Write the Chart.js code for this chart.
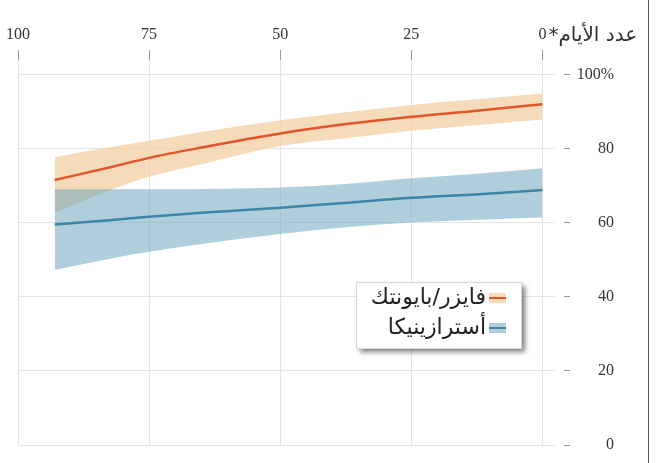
<!DOCTYPE html>
<html>
<head>
<meta charset="utf-8">
<script src="https://cdn.jsdelivr.net/npm/chart.js@4.4.1/dist/chart.umd.min.js"></script>
<style>
  html, body { margin: 0; padding: 0; background: #fff; }
  canvas { display: block; }
</style>
</head>
<body>
<canvas id="chart" width="658" height="463"></canvas>
<script>
// days since second dose
const days = [93, 82, 75, 65, 50, 37, 25, 12, 0];

const pfizerMid   = [71.6, 75.2, 77.6, 80.4, 84.2, 86.8, 88.7, 90.4, 92.1];
const pfizerHigh  = [77.8, 80.6, 82.2, 84.6, 87.8, 90.0, 91.9, 93.5, 95.0];
const pfizerLow   = [62.8, 69.1, 72.5, 75.9, 80.8, 83.0, 84.9, 86.5, 88.0];

const astraMid    = [59.6, 60.8, 61.7, 62.8, 64.1, 65.5, 66.8, 67.8, 68.9];
const astraHigh   = [69.1, 69.1, 69.1, 69.2, 69.6, 70.6, 72.1, 73.4, 74.8];
const astraLow    = [47.3, 50.5, 52.2, 54.3, 57.0, 58.9, 60.1, 60.9, 61.5];

const xTicks = [100, 75, 50, 25, 0];
const yTicks = [0, 20, 40, 60, 80, 100];

const seriesNames = ["فايزر/بايونتك", "أسترازينيكا"];
const xTitle = "عدد الأيام*";

const orangeLine = "#e2542a";
const orangeBand = "rgba(243,205,160,0.72)";
const blueLine = "#3d86a8";
const blueBand = "rgba(111,166,190,0.55)";

function pts(vals) {
  return days.map((d, i) => ({ x: d, y: vals[i] }));
}

const base = { pointRadius: 0, pointHoverRadius: 0, cubicInterpolationMode: "monotone" };

const extras = {
  id: "extras",
  afterDraw(chart) {
    const ctx = chart.ctx;
    const xs = chart.scales.x;
    ctx.save();

    // frame line on the right
    ctx.strokeStyle = "#555";
    ctx.lineWidth = 1;
    ctx.beginPath();
    ctx.moveTo(648.5, 0);
    ctx.lineTo(648.5, 463);
    ctx.stroke();

    // axis title next to the 0 label
    ctx.fillStyle = "#333";
    ctx.font = "20px 'DejaVu Sans'";
    ctx.direction = "rtl";
    ctx.textAlign = "left";
    ctx.textBaseline = "alphabetic";
    ctx.fillText(xTitle, xs.getPixelForValue(0) + 6, 41);

    // legend box with shadow
    const bx = 356, by = 282, bw = 165, bh = 66;
    ctx.shadowColor = "rgba(0,0,0,0.5)";
    ctx.shadowBlur = 5;
    ctx.shadowOffsetX = 4;
    ctx.shadowOffsetY = 4;
    ctx.fillStyle = "#fff";
    ctx.fillRect(bx, by, bw, bh);
    ctx.shadowColor = "transparent";
    ctx.strokeStyle = "#d8d8d8";
    ctx.strokeRect(bx + 0.5, by + 0.5, bw, bh);

    const rows = [
      { name: seriesNames[0], band: orangeBand, line: orangeLine, y: 298 },
      { name: seriesNames[1], band: blueBand, line: blueLine, y: 328 }
    ];
    rows.forEach(r => {
      ctx.fillStyle = r.band;
      ctx.fillRect(489, r.y - 5, 17, 10);
      ctx.strokeStyle = r.line;
      ctx.lineWidth = 2;
      ctx.beginPath();
      ctx.moveTo(489, r.y);
      ctx.lineTo(506, r.y);
      ctx.stroke();
      ctx.fillStyle = "#222";
      ctx.font = "22px 'DejaVu Sans'";
      ctx.direction = "rtl";
      ctx.textAlign = "right";
      ctx.textBaseline = "middle";
      ctx.fillText(r.name, 486, r.y);
    });
    ctx.restore();
  }
};

new Chart(document.getElementById("chart"), {
  type: "line",
  data: {
    datasets: [
      { ...base, label: seriesNames[0], data: pts(pfizerMid), borderColor: orangeLine, borderWidth: 2.5, fill: false },
      { ...base, label: seriesNames[1], data: pts(astraMid), borderColor: blueLine, borderWidth: 2.5, fill: false },
      { ...base, label: "astra high", data: pts(astraHigh), borderWidth: 0, borderColor: "transparent", backgroundColor: blueBand, fill: "+1" },
      { ...base, label: "astra low", data: pts(astraLow), borderWidth: 0, borderColor: "transparent", fill: false },
      { ...base, label: "pfizer high", data: pts(pfizerHigh), borderWidth: 0, borderColor: "transparent", backgroundColor: orangeBand, fill: "+1" },
      { ...base, label: "pfizer low", data: pts(pfizerLow), borderWidth: 0, borderColor: "transparent", fill: false }
    ]
  },
  options: {
    responsive: false,
    animation: false,
    events: [],
    layout: { padding: { left: 16, right: 44, top: 0, bottom: 18 } },
    plugins: {
      legend: { display: false },
      tooltip: { enabled: false },
      filler: { drawTime: "beforeDatasetsDraw" }
    },
    scales: {
      x: {
        type: "linear",
        position: "top",
        reverse: true,
        min: -2.4,
        max: 100,
        afterBuildTicks: s => { s.ticks = xTicks.map(v => ({ value: v })); },
        afterFit: s => { s.height = 60; },
        border: { display: false },
        grid: { color: "#e4e4e4", tickColor: "#999", tickLength: 10, lineWidth: 1 },
        ticks: {
          padding: 6,
          maxRotation: 0,
          color: "#333",
          font: { family: "'Liberation Serif'", size: 16 }
        }
      },
      y: {
        type: "linear",
        position: "right",
        min: 0,
        max: 104.05,
        afterBuildTicks: s => { s.ticks = yTicks.map(v => ({ value: v })); },
        afterFit: s => { s.width = 59; },
        border: { display: false },
        grid: {
          color: "#e4e4e4",
          tickColor: "#999",
          tickLength: 15,
          tickBorderDash: [6, 9],
          tickBorderDashOffset: 6
        },
        ticks: {
          padding: 7,
          crossAlign: "far",
          color: "#333",
          font: { family: "'Liberation Serif'", size: 16 },
          callback: v => v === 100 ? "100%" : String(v)
        }
      }
    }
  },
  plugins: [extras]
});
</script>
</body>
</html>
